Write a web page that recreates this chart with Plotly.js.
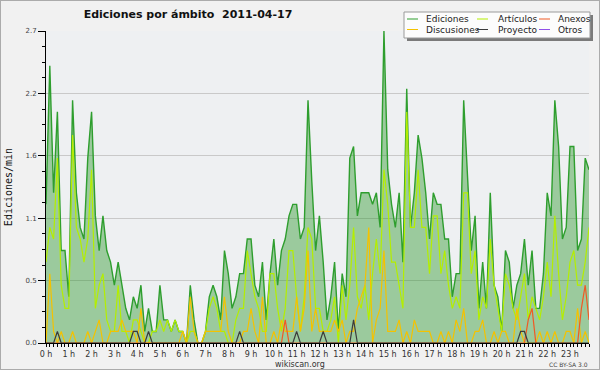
<!DOCTYPE html>
<html>
<head>
<meta charset="utf-8">
<script src="https://cdn.plot.ly/plotly-3.0.1.min.js"></script>
<style>
html,body{margin:0;padding:0;background:#f1f1f1;}
#wrap{position:relative;width:600px;height:370px;}
#chart{width:600px;height:370px;}
#frame{position:absolute;left:0;top:0;width:598px;height:368px;border:1px solid #ababab;pointer-events:none;z-index:10;}
</style>
</head>
<body>
<div id="wrap"><div id="chart"></div><div id="frame"></div></div>
<script>
// ---- data: edits per minute, one value per 10-minute slot, 2011-04-17 ----
const slotMinutes = 10;

const ediciones = [
  1.2,2.4,1.3,2.0,0.8,0.8,0.4,2.1,1.3,1.0,0.9,1.6,2.0,1.1,0.8,1.1,0.8,0.7,0.5,0.7,0.5,0.3,0.2,0.4,0.3,0.5,0.1,0.3,0.1,0.1,0.5,0.2,0.2,0.1,0.2,0.1,
  0.1,0.0,0.5,0.2,0.0,0.0,0.1,0.4,0.5,0.4,0.2,0.8,0.6,0.3,0.4,0.6,0.6,0.9,0.9,0.5,0.4,0.7,0.2,0.6,0.9,0.5,0.8,0.9,1.1,1.2,1.2,0.9,1.0,2.1,1.4,0.8,
  1.1,0.7,0.2,0.4,0.7,0.1,0.6,0.4,1.6,1.7,1.1,1.3,1.3,1.3,1.2,1.3,1.0,2.7,1.5,1.2,1.0,1.3,0.7,2.2,1.0,1.3,1.8,1.6,1.3,0.9,1.3,1.2,1.2,0.9,0.9,0.4,
  0.6,0.6,2.1,1.4,0.8,1.1,0.3,0.7,0.3,1.3,0.5,0.4,0.1,0.8,0.7,0.3,0.5,0.6,0.9,0.5,0.8,0.3,0.3,0.6,1.3,1.1,2.1,1.7,0.9,1.0,1.7,1.7,0.8,0.9,1.6,1.5
];

const articulos = [
  0.7,1.0,0.9,1.6,0.5,0.3,0.3,1.8,1.0,0.9,0.7,0.9,1.5,0.3,0.5,0.6,0.2,0.1,0.1,0.5,0.1,0.1,0.0,0.2,0.2,0.1,0.0,0.0,0.1,0.1,0.2,0.1,0.2,0.1,0.2,0.1,
  0.1,0.0,0.1,0.1,0.0,0.0,0.1,0.3,0.4,0.3,0.1,0.1,0.0,0.0,0.2,0.3,0.3,0.8,0.6,0.4,0.3,0.1,0.1,0.6,0.6,0.3,0.1,0.3,0.8,0.8,0.4,0.1,0.4,1.0,0.9,0.3,
  0.3,0.1,0.1,0.2,0.4,0.0,0.5,0.2,0.5,1.0,0.4,0.3,0.5,0.2,0.6,0.9,0.6,1.5,1.2,0.7,0.7,0.5,0.3,2.0,1.0,1.0,1.5,1.0,1.0,0.6,1.1,1.1,0.6,0.8,0.5,0.3,
  0.4,0.3,1.3,1.3,0.6,0.8,0.2,0.4,0.3,0.9,0.5,0.3,0.1,0.6,0.5,0.3,0.2,0.4,0.6,0.2,0.4,0.3,0.2,0.4,0.7,0.4,1.1,0.6,0.2,0.4,0.7,0.8,0.5,0.5,0.7,1.0
];

const discusiones = [
  0.0,0.6,0.1,0.0,0.1,0.0,0.0,0.1,0.0,0.0,0.0,0.1,0.0,0.1,0.2,0.0,0.0,0.1,0.1,0.1,0.2,0.1,0.1,0.1,0.0,0.3,0.0,0.0,0.0,0.0,0.0,0.0,0.0,0.0,0.0,0.0,
  0.1,0.0,0.4,0.1,0.0,0.0,0.1,0.1,0.1,0.1,0.1,0.4,0.1,0.0,0.0,0.0,0.1,0.1,0.3,0.1,0.0,0.4,0.0,0.0,0.1,0.0,0.2,0.1,0.1,0.1,0.4,0.1,0.3,0.8,0.1,0.3,
  0.1,0.1,0.1,0.1,0.2,0.1,0.2,0.0,0.1,0.1,0.3,0.4,0.5,1.0,0.0,0.2,0.3,0.8,0.1,0.1,0.1,0.2,0.0,0.1,0.0,0.2,0.1,0.1,0.1,0.1,0.0,0.0,0.1,0.0,0.1,0.0,
  0.2,0.1,0.3,0.0,0.0,0.1,0.1,0.2,0.0,0.0,0.1,0.0,0.1,0.1,0.0,0.0,0.3,0.1,0.0,0.0,0.0,0.0,0.1,0.0,0.1,0.0,0.1,0.0,0.0,0.1,0.1,0.0,0.3,0.0,0.1,0.0
];

const proyecto = [
  0,0,0,0.1,0,0,0,0,0,0,0,0,0,0,0,0,0,0,0,0,0,0,0,0.1,0.1,0,0,0.1,0,0,0,0,0,0,0,0,
  0,0,0,0,0,0,0,0,0,0,0,0,0,0,0,0.1,0,0,0,0,0,0,0,0,0,0,0,0,0,0,0.1,0,0,0,0,0,
  0,0.1,0,0,0,0,0,0,0,0.2,0,0,0,0,0,0,0,0,0,0,0,0,0,0,0,0,0,0,0,0,0,0,0,0,0,0,
  0,0,0,0,0,0,0,0,0,0,0,0,0,0,0,0,0,0.1,0.1,0,0,0,0,0,0,0,0,0,0,0,0,0,0,0,0,0
];

const anexos = [
  0,0,0,0,0,0,0,0,0,0,0,0,0,0,0,0,0,0,0,0,0,0,0,0,0,0,0,0,0,0,0,0,0,0,0,0,
  0,0,0,0,0,0,0,0,0,0,0,0,0,0,0,0,0,0,0,0,0,0,0,0,0,0,0,0.2,0,0,0,0,0,0,0,0,
  0,0,0,0,0,0,0,0,0,0,0,0,0,0,0,0,0,0,0,0,0,0,0,0,0,0,0,0,0,0,0,0,0,0,0,0,
  0,0,0,0,0,0,0,0,0,0,0,0,0,0,0,0,0,0,0,0.2,0.3,0,0,0,0,0,0,0,0,0,0,0,0,0.3,0.5,0.2
];

const hourLabels = ['0 h','1 h','2 h','3 h','4 h','5 h','6 h','7 h','8 h','9 h','10 h','11 h',
  '12 h','13 h','14 h','15 h','16 h','17 h','18 h','19 h','20 h','21 h','22 h','23 h'];
const yMax = 2.7;
const yTickText = ['0.0','0.5','1.1','1.6','2.2','2.7'];

const seriesNames  = ['Ediciones','Artículos','Anexos','Discusiones','Proyecto','Otros'];
const seriesColors = ['#2e9e2e','#b4ee00','#f05a24','#f4c200','#3c3c3c','#9050e8'];

const titleText = 'Ediciones por ámbito\u00a0\u00a02011-04-17';
const yTitle = 'Ediciones/min';
const footerText = 'wikiscan.org';
const licenseText = 'CC BY-SA 3.0';

// ---- layout helpers ----
const W = 600, H = 370, ML = 46, MR = 11, MT = 31, MB = 27;
const PW = W - ML - MR, PH = H - MT - MB;
const pxX = v => (v - ML) / PW;
const pxY = v => (H - MB - v) / PH;

const x = ediciones.map((_, i) => i * slotMinutes / 60);
const xEnd = (ediciones.length - 1) * slotMinutes / 60;

function lineTrace(y, name, color, width) {
  return {x: x, y: y, type: 'scatter', mode: 'lines', name: name,
          line: {color: color, width: width, shape: 'linear'}, hoverinfo: 'skip', showlegend: false};
}

const tEd = lineTrace(ediciones, seriesNames[0], seriesColors[0], 1.4);
tEd.fill = 'tozeroy';
tEd.fillcolor = 'rgba(40,150,40,0.42)';

const data = [
  tEd,
  lineTrace(articulos, seriesNames[1], seriesColors[1], 1.2),
  lineTrace(discusiones, seriesNames[3], seriesColors[3], 1.2),
  lineTrace(anexos, seriesNames[2], seriesColors[2], 1.2),
  lineTrace(proyecto, seriesNames[4], seriesColors[4], 1.2)
];

// ---- custom legend box (3 columns x 2 rows) ----
const legendCols = [{line: 407, text: 424}, {line: 477, text: 496}, {line: 539, text: 556}];
const legendRows = [19, 29.5];
const shapes = [
  {type: 'rect', xref: 'paper', yref: 'paper', x0: pxX(407), x1: pxX(593), y0: pxY(15), y1: pxY(41),
   fillcolor: '#7a7a7a', line: {width: 0}, layer: 'above'},
  {type: 'rect', xref: 'paper', yref: 'paper', x0: pxX(404), x1: pxX(590), y0: pxY(12), y1: pxY(38),
   fillcolor: '#fcfcfc', line: {color: '#9a9a9a', width: 1}, layer: 'above'}
];
const annotations = [];
seriesNames.forEach((name, k) => {
  const c = legendCols[k % 3], r = legendRows[Math.floor(k / 3)];
  shapes.push({type: 'line', xref: 'paper', yref: 'paper', x0: pxX(c.line), x1: pxX(c.line + 11),
    y0: pxY(r), y1: pxY(r), line: {color: seriesColors[k], width: 1}, layer: 'above'});
  annotations.push({xref: 'paper', yref: 'paper', x: pxX(c.text), y: pxY(r), xanchor: 'left', yanchor: 'middle',
    text: name, showarrow: false, font: {family: 'DejaVu Sans', size: 9, color: '#222'}});
});
annotations.push({xref: 'paper', yref: 'paper', x: pxX(300), y: pxY(364.5), xanchor: 'center', yanchor: 'middle',
  text: footerText, showarrow: false, font: {family: 'DejaVu Sans', size: 8, color: '#333'}});
annotations.push({xref: 'paper', yref: 'paper', x: pxX(590), y: pxY(364.5), xanchor: 'right', yanchor: 'middle',
  text: licenseText, showarrow: false, font: {family: 'DejaVu Sans', size: 6, color: '#444'}});

const layout = {
  width: W, height: H,
  margin: {l: ML, r: MR, t: MT, b: MB, pad: 0},
  paper_bgcolor: '#f1f1f1',
  plot_bgcolor: '#eef0f2',
  showlegend: false,
  hovermode: false,
  title: {text: '<b>' + titleText + '</b>', x: 188 / W, xanchor: 'center', y: 1 - 14 / H, yanchor: 'middle',
          font: {family: 'DejaVu Sans', size: 11, color: '#111'}},
  xaxis: {
    range: [0, xEnd], fixedrange: true,
    tickmode: 'array', tickvals: hourLabels.map((_, h) => h), ticktext: hourLabels,
    ticks: 'outside', ticklen: 3, tickwidth: 1, tickcolor: '#000',
    minor: {dtick: slotMinutes / 60, tick0: 0, ticks: 'outside', ticklen: 3, tickwidth: 1, tickcolor: '#000', showgrid: false},
    showline: true, linecolor: '#000', linewidth: 1, showgrid: false, zeroline: false,
    tickfont: {family: 'DejaVu Sans', size: 8, color: '#333'}
  },
  yaxis: {
    range: [0, yMax], fixedrange: true,
    tickmode: 'array', tickvals: yTickText.map((_, k) => yMax * k / (yTickText.length - 1)), ticktext: yTickText,
    ticks: 'outside', ticklen: 7, tickwidth: 1, tickcolor: '#000',
    minor: {dtick: yMax / 20, tick0: 0, ticks: 'outside', ticklen: 3, tickwidth: 1, tickcolor: '#000', showgrid: false},
    showline: true, linecolor: '#000', linewidth: 1,
    showgrid: true, gridcolor: '#c9c9c9', gridwidth: 1, zeroline: false,
    tickfont: {family: 'DejaVu Sans', size: 7, color: '#444'},
    title: {text: yTitle, standoff: 10, font: {family: 'DejaVu Sans Mono', size: 10, color: '#111'}}
  },
  shapes: shapes,
  annotations: annotations
};

Plotly.newPlot('chart', data, layout, {staticPlot: true, displayModeBar: false});
</script>
</body>
</html>
